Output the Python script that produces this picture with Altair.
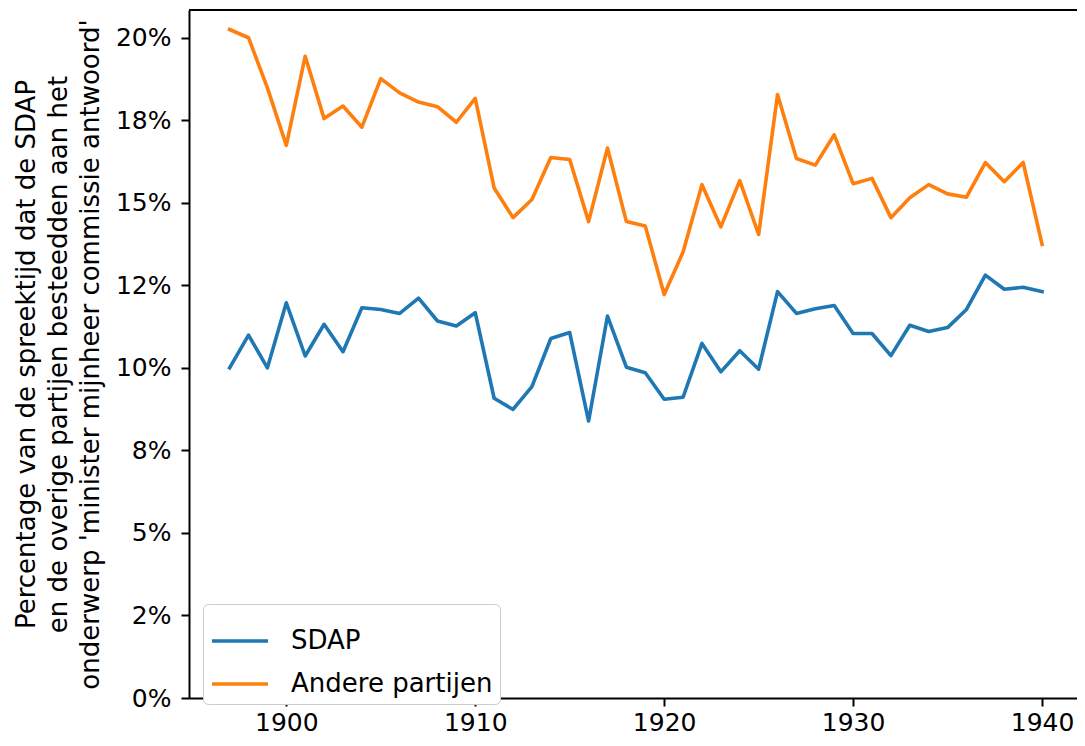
import altair as alt
import pandas as pd

years = list(range(1897, 1941))

sdap = [10.00, 10.99, 10.00, 11.97, 10.36, 11.32, 10.49, 11.82, 11.77, 11.65,
        12.11, 11.42, 11.27, 11.67, 9.08, 8.74, 9.43, 10.89, 11.07, 8.39,
        11.57, 10.02, 9.85, 9.05, 9.11, 10.74, 9.88, 10.52, 9.96, 12.31,
        11.65, 11.79, 11.89, 11.04, 11.04, 10.37, 11.29, 11.10, 11.22, 11.77,
        12.81, 12.38, 12.44, 12.31]

andere = [20.25, 20.00, 18.48, 16.74, 19.44, 17.55, 17.93, 17.29, 18.76, 18.33,
          18.05, 17.91, 17.44, 18.16, 15.45, 14.55, 15.10, 16.37, 16.31, 14.43,
          16.66, 14.43, 14.30, 12.22, 13.51, 15.55, 14.27, 15.67, 14.04, 18.28,
          16.34, 16.14, 17.06, 15.58, 15.74, 14.55, 15.15, 15.55, 15.27, 15.17,
          16.22, 15.64, 16.22, 13.74]

series_names = ["SDAP", "Andere partijen"]
series_colors = ["#1f77b4", "#ff7f0e"]

y_tick_values = [0, 2.5, 5, 7.5, 10, 12.5, 15, 17.5, 20]
y_tick_labels = ["0%", "2%", "5%", "8%", "10%", "12%", "15%", "18%", "20%"]
x_tick_values = [1900, 1910, 1920, 1930, 1940]

y_title = [
    "Percentage van de spreektijd dat de SDAP",
    "en de overige partijen besteedden aan het",
    "onderwerp 'minister mijnheer commissie antwoord'",
]

rows = []
for name, vals in zip(series_names, [sdap, andere]):
    for yr, v in zip(years, vals):
        rows.append({"jaar": yr, "pct": v, "reeks": name})
df = pd.DataFrame(rows)

FONT = "DejaVu Sans"
W = 888
H = 688

vals_js = "[" + ",".join(str(v) for v in y_tick_values) + "]"
labs_js = "[" + ",".join("'" + s + "'" for s in y_tick_labels) + "]"
label_expr = f"{labs_js}[indexof({vals_js}, datum.value)]"

lines = alt.Chart(df).mark_line(strokeWidth=3.6, strokeJoin="round", strokeCap="square").encode(
    x=alt.X("jaar:Q",
            scale=alt.Scale(domain=[1894.85, 1941.85], nice=False, zero=False),
            axis=alt.Axis(values=x_tick_values, format="d", title=None)),
    y=alt.Y("pct:Q",
            scale=alt.Scale(domain=[0, 20.84], nice=False),
            axis=alt.Axis(values=y_tick_values, labelExpr=label_expr, title=y_title)),
    color=alt.Color("reeks:N",
                    scale=alt.Scale(domain=series_names, range=series_colors),
                    sort=series_names,
                    legend=alt.Legend(title=None, orient="none", legendX=14, legendY=594,
                                      symbolType="stroke", symbolSize=3136,
                                      symbolStrokeWidth=3.6, labelFontSize=26,
                                      labelFont=FONT, labelColor="black",
                                      labelOffset=21, rowPadding=-9,
                                      padding=7, strokeColor="#cccccc",
                                      fillColor="white", cornerRadius=5,
                                      labelLimit=400)),
)

top_spine = alt.Chart(df).mark_rule(color="black", strokeWidth=2).encode(
    x=alt.value(0), x2=alt.value(W), y=alt.value(0)
)

chart = alt.layer(lines, top_spine).properties(
    width=W,
    height=H,
    autosize=alt.AutoSizeParams(type="none"),
    padding={"left": 181, "top": 2, "right": 0, "bottom": 40},
).configure_view(
    stroke=None
).configure_axis(
    domain=True,
    domainColor="black",
    domainWidth=2,
    grid=False,
    tickColor="black",
    tickWidth=2,
    tickSize=8,
    labelFont=FONT,
    labelFontSize=25,
    labelColor="black",
    labelPadding=4,
    titleFont=FONT,
    titleFontSize=26,
    titleFontWeight="normal",
    titleColor="black",
    titleLineHeight=32,
    titlePadding=12,
).configure_axisY(
    labelPadding=10,
)

chart.save("out.html", embed_options={"renderer": "svg", "actions": False})
